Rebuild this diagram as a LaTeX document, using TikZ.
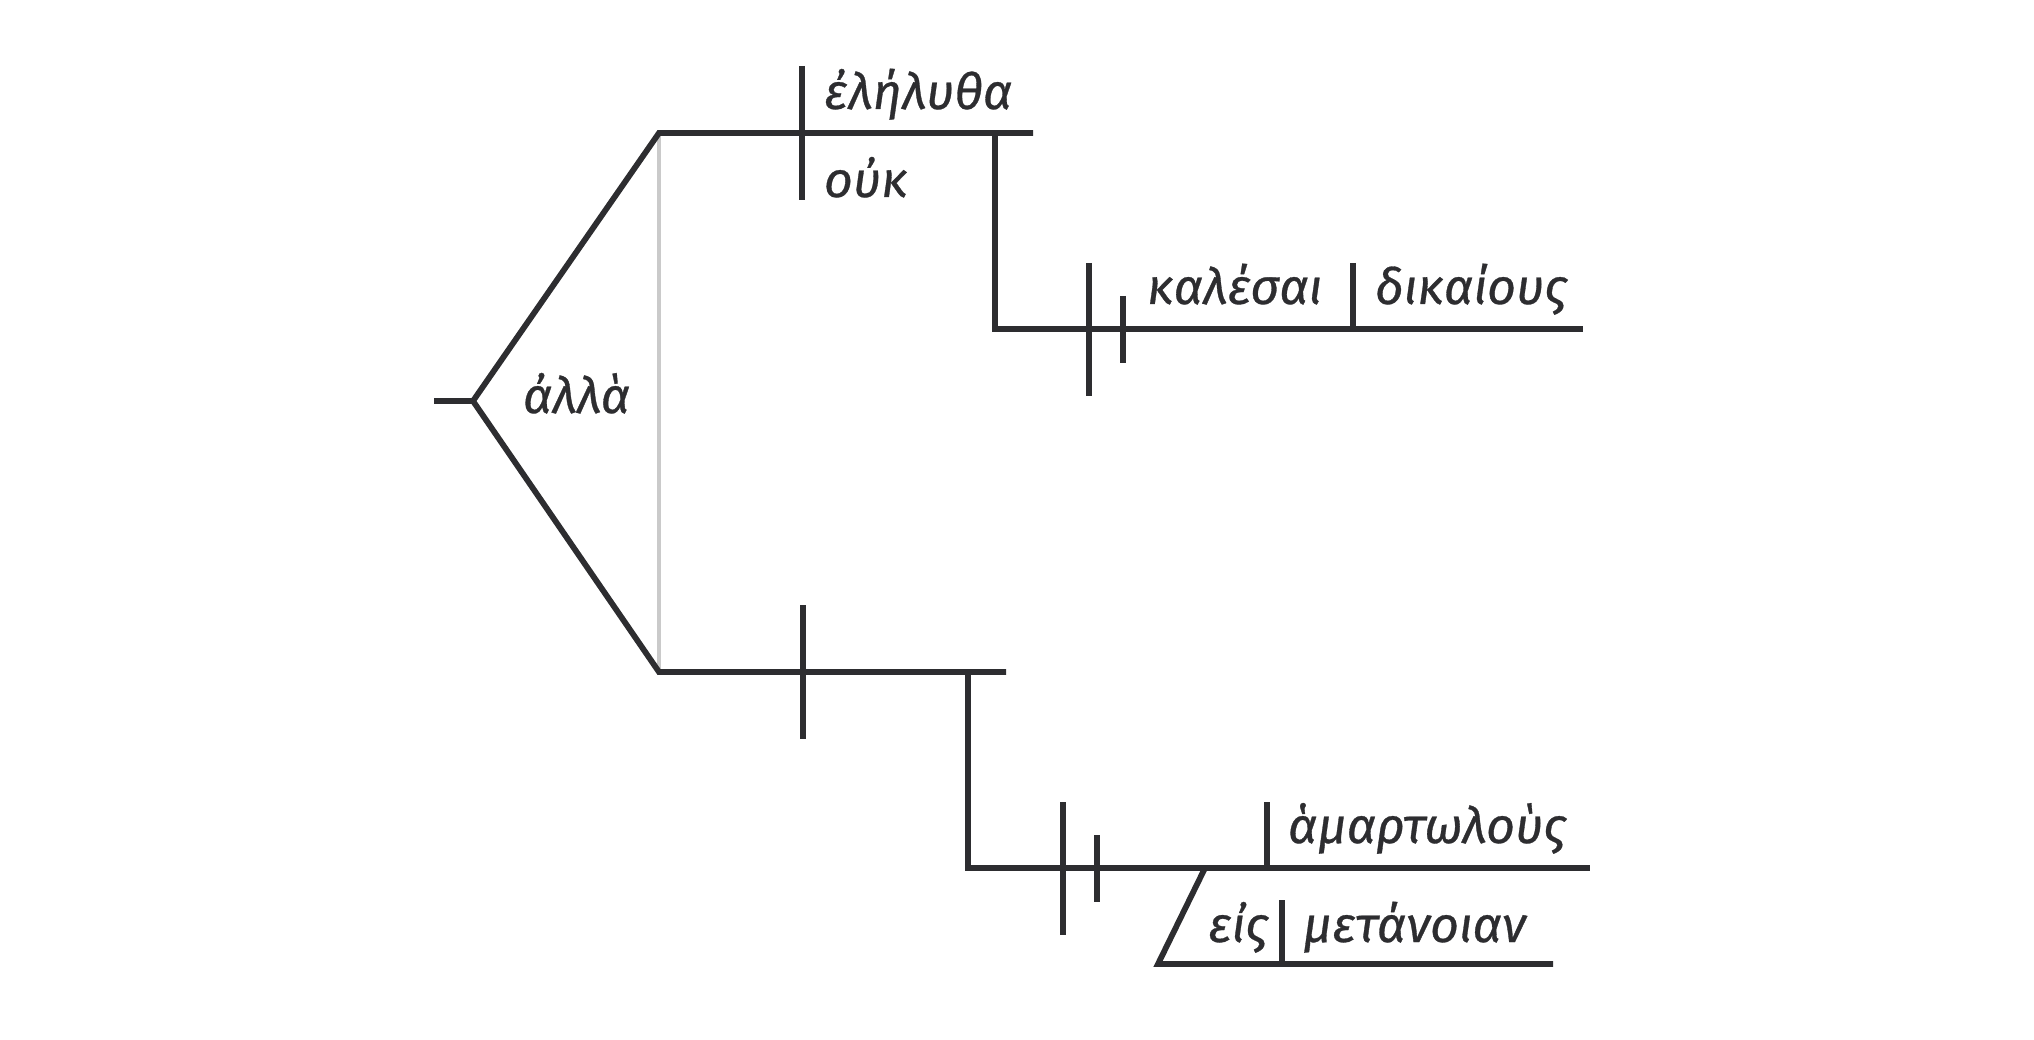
\documentclass[tikz,border=0pt]{standalone}
\usepackage{fontspec}
\newfontfamily\gk[ItalicFeatures={FakeBold=0.6}]{Fira Sans}
\definecolor{ink}{HTML}{2D2D30}
\definecolor{faint}{HTML}{CACACA}
\tikzset{
  rule/.style={draw=ink, line width=5.8pt},
  thin/.style={draw=faint, line width=3.8pt},
  word/.style={anchor=base west, inner sep=0pt, outer sep=0pt, text=ink, font=\gk\itshape\fontsize{50}{54}\selectfont},
}
\begin{document}
\begin{tikzpicture}[x=1pt,y=-1pt]
\useasboundingbox (0,0) rectangle (2034,1040);
% key points
\coordinate (s0) at (434,401);
\coordinate (j) at (473,401);
\coordinate (tc) at (659,133);
\coordinate (bc) at (659,672);
\coordinate (te) at (1033,133);
\coordinate (be) at (1006,672);
% top clause
\coordinate (d1a) at (802,66);
\coordinate (d1b) at (802,200);
\coordinate (v1a) at (995,133);
\coordinate (v1b) at (995,329);
\coordinate (l1e) at (1583,329);
\coordinate (p1a) at (1089,263);
\coordinate (p1b) at (1089,396);
\coordinate (q1a) at (1123,296);
\coordinate (q1b) at (1123,363);
\coordinate (o1a) at (1353,263);
\coordinate (o1b) at (1353,329);
% bottom clause
\coordinate (d2a) at (803,605);
\coordinate (d2b) at (803,739);
\coordinate (v2a) at (968,672);
\coordinate (v2b) at (968,868);
\coordinate (l2e) at (1590,868);
\coordinate (p2a) at (1063,802);
\coordinate (p2b) at (1063,935);
\coordinate (q2a) at (1097,835);
\coordinate (q2b) at (1097,902);
\coordinate (o2a) at (1267,802);
\coordinate (o2b) at (1267,868);
\coordinate (sa) at (1205,868);
\coordinate (sb) at (1158,964);
\coordinate (l3e) at (1553,964);
\coordinate (o3a) at (1282,900);
\coordinate (o3b) at (1282,964);
% connectors
\draw[thin] (tc) -- (bc);
\draw[rule] (s0) -- (j) -- (tc) -- (te);
\draw[rule] (j) -- (bc) -- (be);
\draw[rule] (d1a) -- (d1b);
\draw[rule] (v1a) -- (v1b) -- (l1e);
\draw[rule] (p1a) -- (p1b);
\draw[rule] (q1a) -- (q1b);
\draw[rule] (o1a) -- (o1b);
\draw[rule] (d2a) -- (d2b);
\draw[rule] (v2a) -- (v2b) -- (l2e);
\draw[rule] (p2a) -- (p2b);
\draw[rule] (q2a) -- (q2b);
\draw[rule] (o2a) -- (o2b);
\draw[rule] (sa) -- (sb) -- (l3e);
\draw[rule] (o3a) -- (o3b);
% words
\node[word] (w1) at (824,109) {ἐλήλυθα};
\node[word] (w2) at (824,197) {οὐκ};
\node[word] (w3) at (523,413) {ἀλλὰ};
\node[word] (w4) at (1147,304) {καλέσαι};
\node[word] (w5) at (1375,304) {δικαίους};
\node[word] (w6) at (1288,843) {ἁμαρτωλοὺς};
\node[word] (w7) at (1208,942) {εἰς};
\node[word] (w8) at (1303,942) {μετάνοιαν};
\end{tikzpicture}
\end{document}
